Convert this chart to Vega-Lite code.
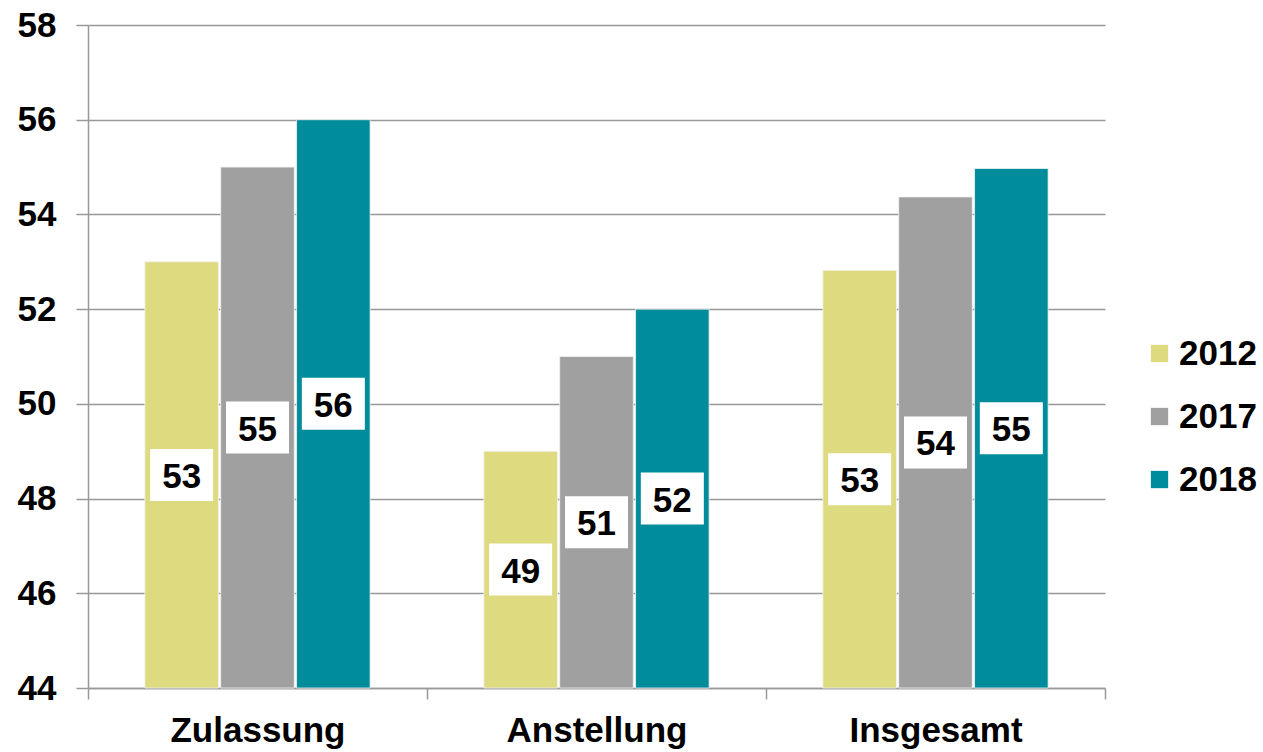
{
  "$schema": "https://vega.github.io/schema/vega-lite/v6.json",
  "width": 1017,
  "height": 663,
  "autosize": {"type": "none"},
  "padding": {"left": 88, "top": 25, "right": 158, "bottom": 64},
  "background": "white",
  "config": {
    "font": "Liberation Sans",
    "view": {"stroke": null}
  },
  "data": {
    "values": [
      {"Bereich": "Zulassung", "Jahr": "2012", "Wert": 53},
      {"Bereich": "Zulassung", "Jahr": "2017", "Wert": 55},
      {"Bereich": "Zulassung", "Jahr": "2018", "Wert": 56},
      {"Bereich": "Anstellung", "Jahr": "2012", "Wert": 49},
      {"Bereich": "Anstellung", "Jahr": "2017", "Wert": 51},
      {"Bereich": "Anstellung", "Jahr": "2018", "Wert": 52},
      {"Bereich": "Insgesamt", "Jahr": "2012", "Wert": 52.82},
      {"Bereich": "Insgesamt", "Jahr": "2017", "Wert": 54.37},
      {"Bereich": "Insgesamt", "Jahr": "2018", "Wert": 54.97}
    ]
  },
  "encoding": {
    "x": {
      "field": "Bereich",
      "type": "nominal",
      "sort": ["Zulassung", "Anstellung", "Insgesamt"],
      "scale": {"paddingInner": 0, "paddingOuter": 0},
      "axis": {
        "title": null,
        "labelAngle": 0,
        "labelFont": "Liberation Sans",
        "labelFontSize": 35,
        "labelFontWeight": "bold",
        "labelColor": "black",
        "labelLimit": 500,
        "labelPadding": 14,
        "tickBand": "extent",
        "tickSize": 11,
        "tickColor": "#999999",
        "domainColor": "#999999",
        "domainWidth": 1.5,
        "tickWidth": 1.5
      }
    },
    "xOffset": {
      "field": "Jahr",
      "type": "nominal",
      "scale": {"paddingInner": 0.03, "paddingOuter": 0.75}
    }
  },
  "layer": [
    {
      "mark": {"type": "bar", "stroke": "#f2f2f2", "strokeWidth": 0.8},
      "encoding": {
        "y": {
          "field": "Wert",
          "type": "quantitative",
          "scale": {"domain": [44, 58], "nice": false, "zero": false},
          "axis": {
            "title": null,
            "values": [44, 46, 48, 50, 52, 54, 56, 58],
            "labelFont": "Liberation Sans",
            "labelFontSize": 35,
            "labelFontWeight": "bold",
            "labelColor": "black",
            "labelPadding": 20,
            "tickSize": 12,
            "tickColor": "#999999",
            "tickWidth": 1.5,
            "domainColor": "#999999",
            "domainWidth": 1.5,
            "grid": true,
            "gridColor": "#999999",
            "gridWidth": 1.5
          }
        },
        "y2": {"datum": 44},
        "color": {
          "field": "Jahr",
          "type": "nominal",
          "scale": {"domain": ["2012", "2017", "2018"], "range": ["#DDDA80", "#9FA09F", "#008C9B"]},
          "legend": {
            "title": null,
            "orient": "none",
            "legendX": 1054,
            "legendY": 311,
            "symbolType": "square",
            "symbolSize": 300,
            "symbolStrokeWidth": 0,
            "labelFont": "Liberation Sans",
            "labelFontSize": 35,
            "labelFontWeight": "bold",
            "labelColor": "black",
            "labelOffset": 2,
            "rowPadding": 27
          }
        }
      }
    },
    {
      "layer": [
        {
          "mark": {
            "type": "point",
            "shape": "M-1,-0.825L1,-0.825L1,0.825L-1,0.825Z",
            "filled": true,
            "fill": "white",
            "opacity": 1,
            "strokeWidth": 0,
            "size": 3969
          },
          "encoding": {
            "y": {
              "field": "Wert",
              "type": "quantitative",
              "scale": {"domain": [44, 72], "nice": false, "zero": false},
              "axis": null
            }
          }
        },
        {
          "mark": {
            "type": "text",
            "font": "Liberation Sans",
            "fontSize": 35,
            "fontWeight": "bold",
            "color": "black",
            "baseline": "middle",
            "dy": 2
          },
          "encoding": {
            "y": {
              "field": "Wert",
              "type": "quantitative",
              "scale": {"domain": [44, 72], "nice": false, "zero": false},
              "axis": null
            },
            "text": {"field": "Wert", "type": "quantitative", "format": ".0f"}
          }
        }
      ]
    }
  ],
  "resolve": {"scale": {"y": "independent"}}
}
